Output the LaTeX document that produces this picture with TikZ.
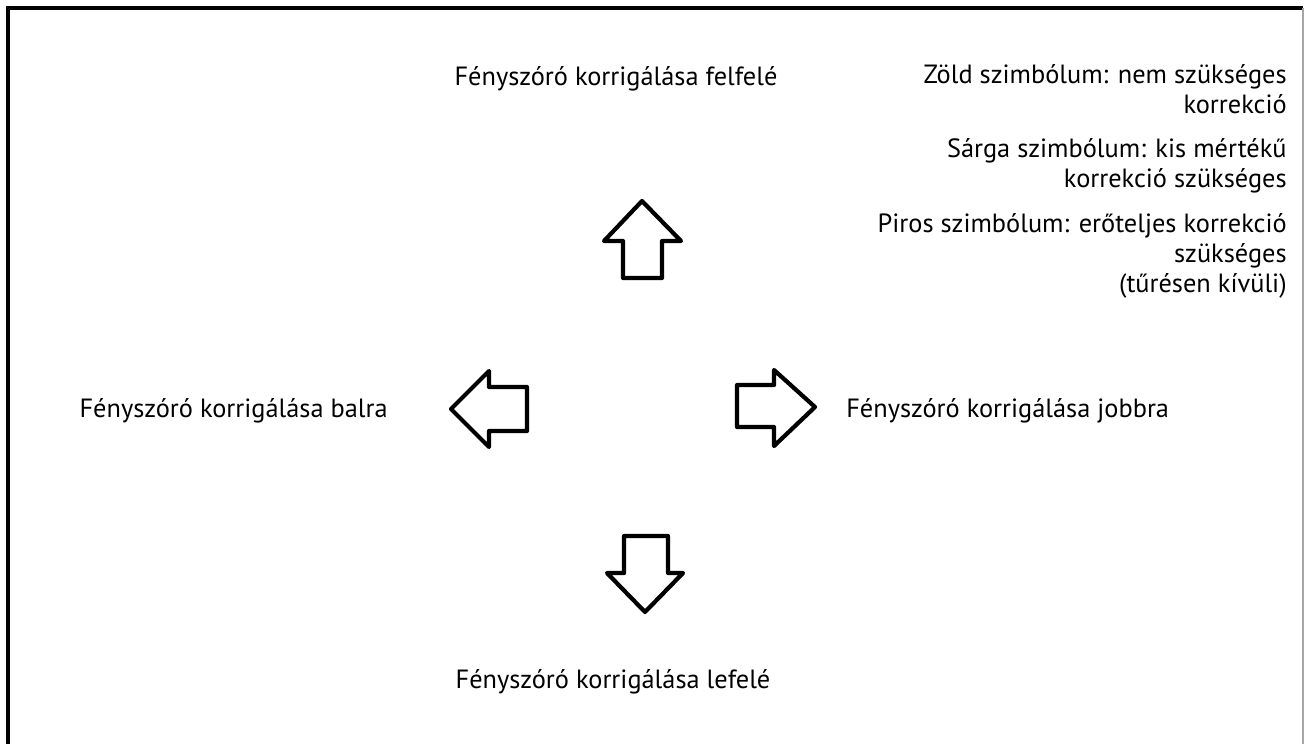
\documentclass[tikz,border=0pt]{standalone}
\usepackage{fontspec}
\setmainfont{PT Sans}
\usetikzlibrary{positioning}
\tikzset{
  felirat/.style={inner sep=0pt, font=\fontsize{15}{17}\selectfont, anchor=base},
  jelmagy/.style={felirat, align=right, anchor=base east},
  nyil/.style={draw=black, line width=2.4pt, line join=round, fill=white},
  keret/.style={draw=black, line width=2pt},
}
\begin{document}
\begin{tikzpicture}[x=0.02cm, y=-0.02cm]
\useasboundingbox (0,0) rectangle (1304,744);
\draw[keret] (8,744) -- (8,8) -- (1303,8);
\draw[gray!70, line width=0.6pt] (1303,8) -- (1303,744);

\draw[nyil] (642,201) -- (681,241) -- (662,241) -- (662,278) -- (623,278) -- (623,241) -- (604,241) -- cycle;
\draw[nyil] (645,612) -- (683,573) -- (668,573) -- (668,536) -- (624,536) -- (624,573) -- (607,573) -- cycle;
\draw[nyil] (451,409) -- (489,371) -- (489,387) -- (527,387) -- (527,431) -- (489,431) -- (489,447) -- cycle;
\draw[nyil] (815,407) -- (774,370) -- (774,385) -- (737,385) -- (737,427) -- (774,427) -- (774,446) -- cycle;

\node[felirat] (fel) at (616,85) {Fényszóró korrigálása felfelé};
\node[felirat] (le) at (613,688) {Fényszóró korrigálása lefelé};
\node[felirat, anchor=base east] (bal) at (388,417) {Fényszóró korrigálása balra};
\node[felirat, anchor=base west] (jobb) at (846,417) {Fényszóró korrigálása jobbra};

\node[jelmagy] (zold) at (1287,113) {Zöld szimbólum: nem szükséges\\korrekció};
\node[jelmagy] (sarga) at (1287,187) {Sárga szimbólum: kis mértékű\\korrekció szükséges};
\node[jelmagy] (piros) at (1287,292) {Piros szimbólum: erőteljes korrekció\\szükséges\\(tűrésen kívüli)};
\end{tikzpicture}
\end{document}
